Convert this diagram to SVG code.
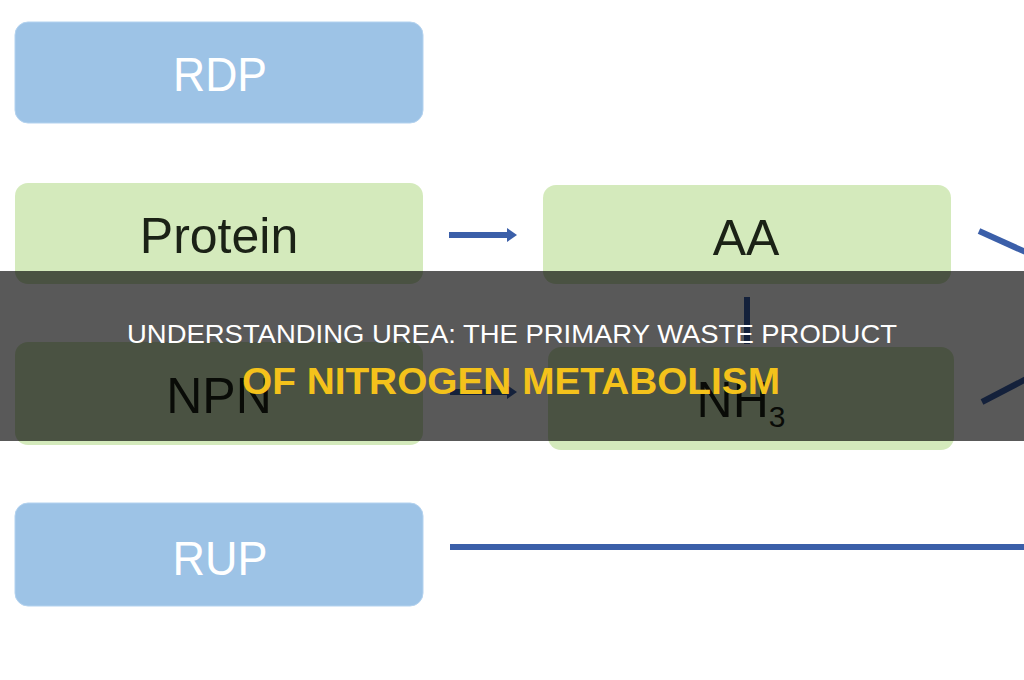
<svg xmlns="http://www.w3.org/2000/svg" width="1024" height="680" viewBox="0 0 1024 680">
  <style>
    .blue { fill: #9dc3e6; stroke: #b3d2ef; stroke-width: 1; }
    .green { fill: #d4eabc; }
    .lblW { font-family: "Liberation Sans", Arial, sans-serif; font-size: 48px; fill: #ffffff; text-anchor: middle; }
    .lblD { font-family: "Liberation Sans", Arial, sans-serif; font-size: 50px; fill: #1b2216; text-anchor: middle; }
    .con { stroke: #3b5fa9; stroke-width: 6; fill: none; }
    .t1 { font-family: "Liberation Sans", Arial, sans-serif; font-size: 25px; fill: #ffffff; text-anchor: middle; }
    .t2 { font-family: "Liberation Sans", Arial, sans-serif; font-size: 37px; font-weight: bold; fill: #f4c21b; text-anchor: middle; }
  </style>
  <defs>
    <marker id="ah" markerWidth="10" markerHeight="14" refX="1" refY="7" orient="auto" markerUnits="userSpaceOnUse">
      <path d="M0,0 L10,7 L0,14 z" fill="#3b5fa9"/>
    </marker>
  </defs>
  <rect width="1024" height="680" fill="#ffffff"/>

  <g id="rdp">
    <rect class="blue" x="15" y="22" width="408" height="101" rx="13"/>
    <text class="lblW" x="220" y="91" textLength="94" lengthAdjust="spacingAndGlyphs">RDP</text>
  </g>
  <g id="protein">
    <rect class="green" x="15" y="183" width="408" height="101" rx="13"/>
    <text class="lblD" x="219" y="253">Protein</text>
  </g>
  <g id="aa">
    <rect class="green" x="543" y="185" width="408" height="99" rx="13"/>
    <text class="lblD" x="746" y="255">AA</text>
  </g>
  <g id="npn">
    <rect class="green" x="15" y="342" width="408" height="103" rx="13"/>
    <text class="lblD" x="219" y="413">NPN</text>
  </g>
  <g id="nh3">
    <rect class="green" x="548" y="347" width="406" height="103" rx="13"/>
    <text class="lblD" x="741" y="417" text-anchor="start" style="text-anchor:middle">NH<tspan font-size="30" dy="10">3</tspan></text>
  </g>
  <g id="rup">
    <rect class="blue" x="15" y="503" width="408" height="103" rx="13"/>
    <text class="lblW" x="220" y="575" textLength="95" lengthAdjust="spacingAndGlyphs">RUP</text>
  </g>

  <g id="connectors">
    <line class="con" x1="449" y1="235" x2="508" y2="235" marker-end="url(#ah)"/>
    <line class="con" x1="450" y1="392" x2="508" y2="392" marker-end="url(#ah)"/>
    <line class="con" x1="747" y1="297" x2="747" y2="344"/>
    <line class="con" x1="979" y1="231" x2="1030" y2="254"/>
    <line class="con" x1="982" y1="402" x2="1030" y2="377"/>
    <line class="con" x1="450" y1="547" x2="1024" y2="547"/>
  </g>

  <g id="banner">
    <rect x="0" y="271" width="1024" height="170" fill="#000000" fill-opacity="0.65"/>
    <text class="t1" x="512" y="343" textLength="770" lengthAdjust="spacingAndGlyphs">UNDERSTANDING UREA: THE PRIMARY WASTE PRODUCT</text>
    <text class="t2" x="511" y="394" textLength="538" lengthAdjust="spacingAndGlyphs">OF NITROGEN METABOLISM</text>
  </g>
</svg>
